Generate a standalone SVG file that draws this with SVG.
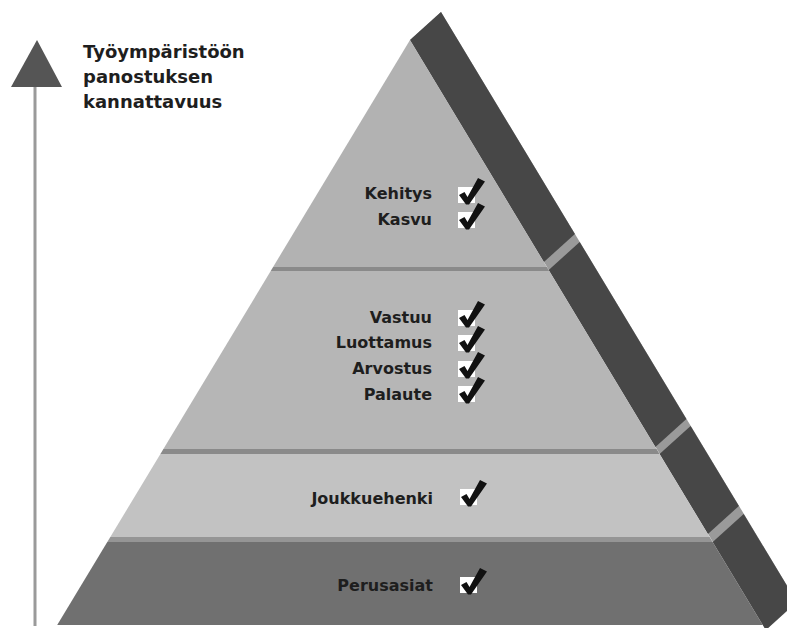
<svg xmlns="http://www.w3.org/2000/svg" xmlns:xlink="http://www.w3.org/1999/xlink" width="787" height="628" viewBox="0 0 787 628">
  <style>
    .lbl { font-family: "DejaVu Sans", "Liberation Sans", sans-serif; font-weight: bold; font-size: 16px; fill: #1e1e1e; text-anchor: end; }
    .ttl { font-family: "DejaVu Sans", "Liberation Sans", sans-serif; font-weight: bold; font-size: 18px; fill: #1e1e1e; }
    .side { fill: #474747; }
    .bevel { fill: #9a9a9a; }
    .sep { fill: #8a8a8a; }
  </style>
  <defs>
    <g id="chk">
      <rect x="0" y="0" width="17" height="16" fill="#ffffff"/>
      <polygon points="1,8 6.5,5 9.5,10 20,-9 27,-5.5 11,17.5 8,17.5" fill="#111111"/>
    </g>
  </defs>
  <rect width="787" height="628" fill="#ffffff"/>

  <g id="connectors">
    <line x1="35" y1="84" x2="35" y2="626" stroke="#9a9a9a" stroke-width="3"/>
    <polygon points="37,40 11,87 62,87" fill="#555555"/>
  </g>

  <g id="title">
    <text class="ttl" x="83" y="58">Työympäristöön</text>
    <text class="ttl" x="83" y="83">panostuksen</text>
    <text class="ttl" x="83" y="108">kannattavuus</text>
  </g>

  <g id="side-faces">
    <polygon class="bevel" points="410,40 441,12 797,602 766,630"/>
    <polygon class="side" points="410,40 441,12 574.9,234 543.9,262"/>
    <polygon class="side" points="548.7,270 579.7,242 686.4,419 655.4,447"/>
    <polygon class="side" points="659.6,454 690.6,426 738.9,506 707.9,534"/>
    <polygon class="side" points="712.7,542 743.7,514 796.8,602 765.8,630"/>
  </g>

  <g id="level-top">
    <polygon points="410,40 273.1,267 546.9,267" fill="#b2b2b2"/>
    <polygon class="sep" points="273.1,267 546.9,267 549.3,271 270.7,271"/>
    <text class="lbl" x="432" y="199">Kehitys</text>
    <text class="lbl" x="432" y="225">Kasvu</text>
    <use xlink:href="#chk" x="458" y="187"/>
    <use xlink:href="#chk" x="458" y="212"/>
  </g>

  <g id="level-2">
    <polygon points="270.7,271 549.3,271 656.6,449 163.4,449" fill="#b6b6b6"/>
    <polygon class="sep" points="163.4,449 656.6,449 659.6,454 160.4,454"/>
    <text class="lbl" x="432" y="323">Vastuu</text>
    <text class="lbl" x="432" y="348">Luottamus</text>
    <text class="lbl" x="432" y="374">Arvostus</text>
    <text class="lbl" x="432" y="400">Palaute</text>
    <use xlink:href="#chk" x="458" y="310"/>
    <use xlink:href="#chk" x="458" y="335"/>
    <use xlink:href="#chk" x="458" y="361"/>
    <use xlink:href="#chk" x="458" y="386"/>
  </g>

  <g id="level-3">
    <polygon points="160.4,454 659.6,454 709.7,537 110.3,537" fill="#c2c2c2"/>
    <polygon points="110.3,537 709.7,537 712.7,542 107.3,542" fill="#959595"/>
    <text class="lbl" x="433" y="504">Joukkuehenki</text>
    <use xlink:href="#chk" x="460" y="489"/>
  </g>

  <g id="level-base">
    <polygon points="107.3,542 712.7,542 762.8,625 57.2,625" fill="#707070"/>
    <text class="lbl" x="433" y="591">Perusasiat</text>
    <use xlink:href="#chk" x="460" y="577"/>
  </g>
</svg>
